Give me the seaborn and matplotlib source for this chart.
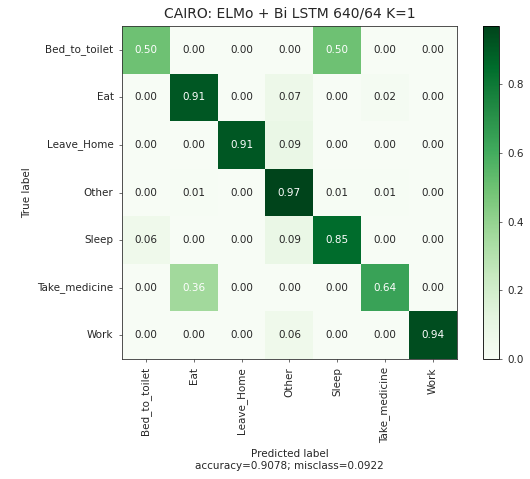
import numpy as np
import pandas as pd
import seaborn as sns
import matplotlib
matplotlib.use("Agg")
import matplotlib.pyplot as plt

# ------------------------------------------------------------
# DATA
# ------------------------------------------------------------
labels = ["Bed_to_toilet", "Eat", "Leave_Home", "Other", "Sleep",
          "Take_medicine", "Work"]

cm_values = [
    [0.50, 0.00, 0.00, 0.00, 0.50, 0.00, 0.00],
    [0.00, 0.91, 0.00, 0.07, 0.00, 0.02, 0.00],
    [0.00, 0.00, 0.91, 0.09, 0.00, 0.00, 0.00],
    [0.00, 0.01, 0.00, 0.97, 0.01, 0.01, 0.00],
    [0.06, 0.00, 0.00, 0.09, 0.85, 0.00, 0.00],
    [0.00, 0.36, 0.00, 0.00, 0.00, 0.64, 0.00],
    [0.00, 0.00, 0.00, 0.06, 0.00, 0.00, 0.94],
]

accuracy = 0.9078
misclass = 0.0922
title = "CAIRO: ELMo + Bi LSTM 640/64 K=1"

cm = pd.DataFrame(cm_values, index=labels, columns=labels)

# ------------------------------------------------------------
# PLOT
# ------------------------------------------------------------
fs = 7.5
txt_col = "#262626"

fig = plt.figure(figsize=(5.30, 4.79), dpi=100)
ax = fig.add_axes([0.230, 0.2505, 0.632, 0.695])
cax = fig.add_axes([0.911, 0.2505, 0.030, 0.695])

sns.heatmap(
    cm,
    cmap="Greens",
    vmin=0.0,
    vmax=cm.values.max(),
    annot=False,
    cbar=True,
    cbar_ax=cax,
    ax=ax,
)

thresh = 0.3
for i in range(cm.shape[0]):
    for j in range(cm.shape[1]):
        v = cm.iat[i, j]
        ax.text(j + 0.5, i + 0.5, f"{v:.2f}",
                ha="center", va="center", fontsize=fs,
                color="white" if v > thresh else txt_col)

for s in ax.spines.values():
    s.set_visible(True)
    s.set_linewidth(0.6)
    s.set_color("#333333")

ax.set_title(title, fontsize=10, color=txt_col)
ax.set_ylabel("True label", fontsize=fs, color=txt_col)
ax.set_xlabel(f"Predicted label\naccuracy={accuracy:.4f}; misclass={misclass:.4f}",
              fontsize=fs, color=txt_col)
ax.set_xticklabels(labels, rotation=90)
ax.set_yticklabels(labels, rotation=0)
ax.tick_params(length=2.5, width=0.6, labelsize=fs, labelcolor=txt_col,
               color="#555555")

cbar = ax.collections[0].colorbar
cbar.set_ticks([0.0, 0.2, 0.4, 0.6, 0.8])
cbar.outline.set_visible(True)
cbar.outline.set_linewidth(0.6)
cbar.ax.tick_params(length=2.5, width=0.6, labelsize=fs, labelcolor=txt_col,
                    color="#555555")

fig.savefig("out.png", dpi=100)
